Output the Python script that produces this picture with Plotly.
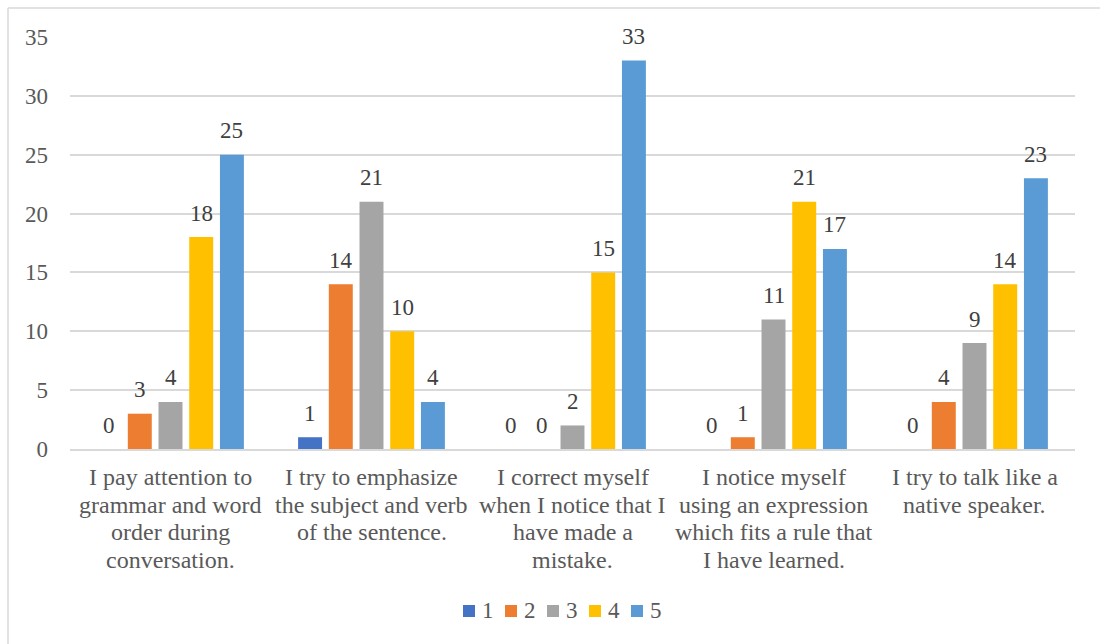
import plotly.graph_objects as go

categories = [
    "I pay attention to<br>grammar and word<br>order during<br>conversation.",
    "I try to emphasize<br>the subject and verb<br>of the sentence.",
    "I correct myself<br>when I notice that I<br>have made a<br>mistake.",
    "I notice myself<br>using an expression<br>which fits a rule that<br>I have learned.",
    "I try to talk like a<br>native speaker.",
]
series_names = ["1", "2", "3", "4", "5"]
values = {
    "1": [0, 1, 0, 0, 0],
    "2": [3, 14, 0, 1, 4],
    "3": [4, 21, 2, 11, 9],
    "4": [18, 10, 15, 21, 14],
    "5": [25, 4, 33, 17, 23],
}
colors = {"1": "#4472C4", "2": "#ED7D31", "3": "#A5A5A5", "4": "#FFC000", "5": "#5B9BD5"}
y_ticks = [0, 5, 10, 15, 20, 25, 30, 35]

FONT = "Liberation Serif, Times New Roman, serif"
W, H = 1100, 644
L, R, T = 70, 25, 37
PLOT_BOTTOM = 449
B = H - PLOT_BOTTOM
PW, PH = W - L - R, PLOT_BOTTOM - T
SLOT = 30.7  # px per bar slot inside a group


def px_x(px):
    return (px - L) / PW


def px_y(py):
    return (PLOT_BOTTOM - py) / PH


fig = go.Figure()
for s in series_names:
    fig.add_trace(go.Bar(
        name=s, x=categories, y=values[s],
        marker=dict(color=colors[s], line=dict(width=0)),
        hoverinfo="x+y", showlegend=False,
    ))

annotations = []
# value labels
for i, s in enumerate(series_names):
    for c, v in zip(categories, values[s]):
        annotations.append(dict(
            x=c, y=v, xref="x", yref="y", text=str(v), showarrow=False,
            xshift=(i - 2) * SLOT, yshift=24, yanchor="middle", xanchor="center",
            font=dict(family=FONT, size=23, color="#404040"),
        ))
# category labels (multi-line, tighter line spacing)
for c in categories:
    for k, line in enumerate(c.split("<br>")):
        annotations.append(dict(
            x=c, y=0, xref="x", yref="y", text=line, showarrow=False,
            yshift=-(28 + k * 27.7), yanchor="middle", xanchor="center",
            font=dict(family=FONT, size=24, color="#595959"),
        ))

shapes = []
# legend (bottom centre)
LEG_X0, LEG_STEP, LEG_Y = 463, 42, 611
for i, s in enumerate(series_names):
    x0 = LEG_X0 + i * LEG_STEP
    shapes.append(dict(type="rect", xref="paper", yref="paper",
                       x0=px_x(x0), x1=px_x(x0 + 12),
                       y0=px_y(LEG_Y + 6), y1=px_y(LEG_Y - 6),
                       fillcolor=colors[s], line=dict(width=0)))
    annotations.append(dict(x=px_x(x0 + 17), y=px_y(LEG_Y), xref="paper", yref="paper",
                            text=s, showarrow=False, xanchor="left", yanchor="middle",
                            yshift=1, font=dict(family=FONT, size=23, color="#595959")))

# chart frame: only the top and left edges fall inside the view
shapes.append(dict(type="line", xref="paper", yref="paper",
                   x0=px_x(8), x1=px_x(W), y0=px_y(8), y1=px_y(8),
                   line=dict(color="#D9D9D9", width=1.5), layer="below"))
shapes.append(dict(type="line", xref="paper", yref="paper",
                   x0=px_x(8), x1=px_x(8), y0=px_y(H), y1=px_y(8),
                   line=dict(color="#D9D9D9", width=1.5), layer="below"))

fig.update_layout(
    barmode="group",
    bargap=0.236,
    bargroupgap=0.22,
    width=W, height=H,
    margin=dict(l=L, r=R, t=T, b=B),
    paper_bgcolor="white",
    plot_bgcolor="white",
    font=dict(family=FONT, size=23, color="#595959"),
    showlegend=False,
    annotations=annotations,
    shapes=shapes,
)
fig.update_xaxes(
    showline=True, linecolor="#D9D9D9", linewidth=1.5,
    showticklabels=False, ticks="", showgrid=False,
)
fig.update_yaxes(
    range=[0, 35], tickvals=y_ticks, ticktext=[str(t) for t in y_ticks],
    showgrid=True, gridcolor="#D9D9D9", gridwidth=1.5,
    zeroline=False, showline=False,
    tickfont=dict(family=FONT, size=23, color="#595959"),
    ticks="", ticklabelstandoff=21,
)

fig.write_html(
    "out.html",
    config={"displayModeBar": False},
    post_script="document.body.style.margin='0';document.body.style.overflow='hidden';"
                "document.body.style.background='white';",
)
